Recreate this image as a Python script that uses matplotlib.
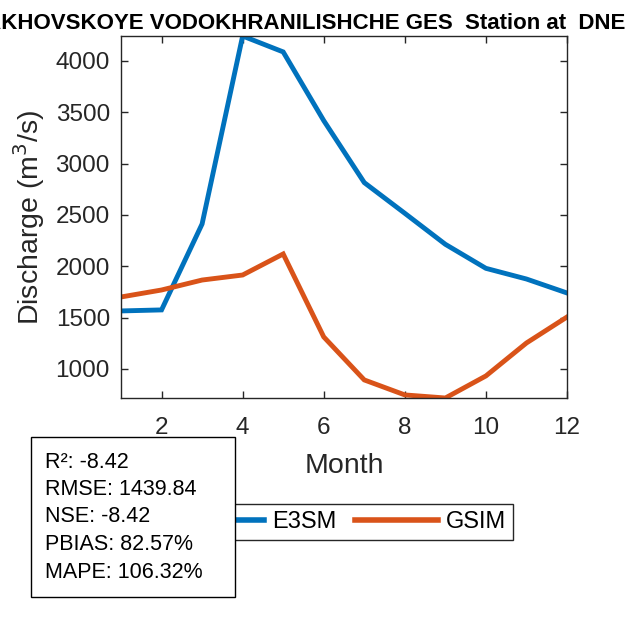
import numpy as np
import matplotlib
matplotlib.use('Agg')
import matplotlib.pyplot as plt
from matplotlib.patches import Rectangle

plt.rcParams['font.family'] = ['Liberation Sans', 'DejaVu Sans']

# monthly climatology values
months = np.arange(1, 13)
e3sm = [1565, 1575, 2412, 4243, 4088, 3419, 2815, 2516, 2214, 1980, 1876, 1740]
gsim = [1701, 1769, 1866, 1915, 2120, 1312, 893, 747, 717, 932, 1253, 1506]

station_title = 'KAKHOVSKOYE VODOKHRANILISHCHE GES  Station at  DNEPR'
stats_lines = ['R\u00b2: -8.42', 'RMSE: 1439.84', 'NSE: -8.42',
               'PBIAS: 82.57%', 'MAPE: 106.32%']

blue = '#0072BD'
orange = '#D95319'
axcol = '#262626'

fig = plt.figure(figsize=(6.25, 6.25), dpi=100)
ax = fig.add_axes([0.1936, 0.3632, 0.7136, 0.5792])

ax.plot(months, e3sm, color=blue, lw=3.5, label='E3SM', solid_joinstyle='miter')
ax.plot(months, gsim, color=orange, lw=3.5, label='GSIM', solid_joinstyle='miter')

ax.set_xlim(1, 12)
ax.set_ylim(min(min(e3sm), min(gsim)), max(max(e3sm), max(gsim)))
ax.set_xticks([2, 4, 6, 8, 10, 12])
ax.set_yticks(np.arange(1000, 4001, 500))
ax.tick_params(axis='both', direction='in', length=5, width=1, top=True, right=True,
               labelsize=17.5, colors=axcol, labelcolor=axcol)
ax.tick_params(axis='x', pad=14)
ax.tick_params(axis='y', pad=8)
for sp in ax.spines.values():
    sp.set_color(axcol)
    sp.set_linewidth(1)

ax.set_xlabel('Month', fontsize=20.5, color=axcol, labelpad=10)
ax.set_ylabel('Discharge (m$^3$/s)', fontsize=20.5, color=axcol, labelpad=6)
# long station title overflows the figure on both sides, as in the original
ax.set_title(station_title, fontsize=16, fontweight='bold', color='black',
             pad=5, x=0.4305)

leg = fig.legend(loc='center', bbox_to_anchor=(0.55, 0.1648), ncol=2,
                 fontsize=17, handlelength=3.5, handletextpad=0.35,
                 columnspacing=0.8, borderpad=0.3, fancybox=False,
                 edgecolor=axcol, framealpha=1)
leg.get_frame().set_linewidth(1)
leg.set_zorder(5)
for line in leg.get_lines():
    line.set_linewidth(4)

# stats annotation box
box = Rectangle((31 / 625, 1 - 597 / 625), 204 / 625, 160 / 625,
                transform=fig.transFigure, facecolor='white', edgecolor='black',
                lw=1, zorder=10)
fig.add_artist(box)
for i, s in enumerate(stats_lines):
    fig.text(45 / 625, 1 - (462 + 27.5 * i) / 625, s, fontsize=15.5,
             color='black', va='center', ha='left', zorder=11)

fig.savefig('out.png', dpi=100, facecolor='white')
